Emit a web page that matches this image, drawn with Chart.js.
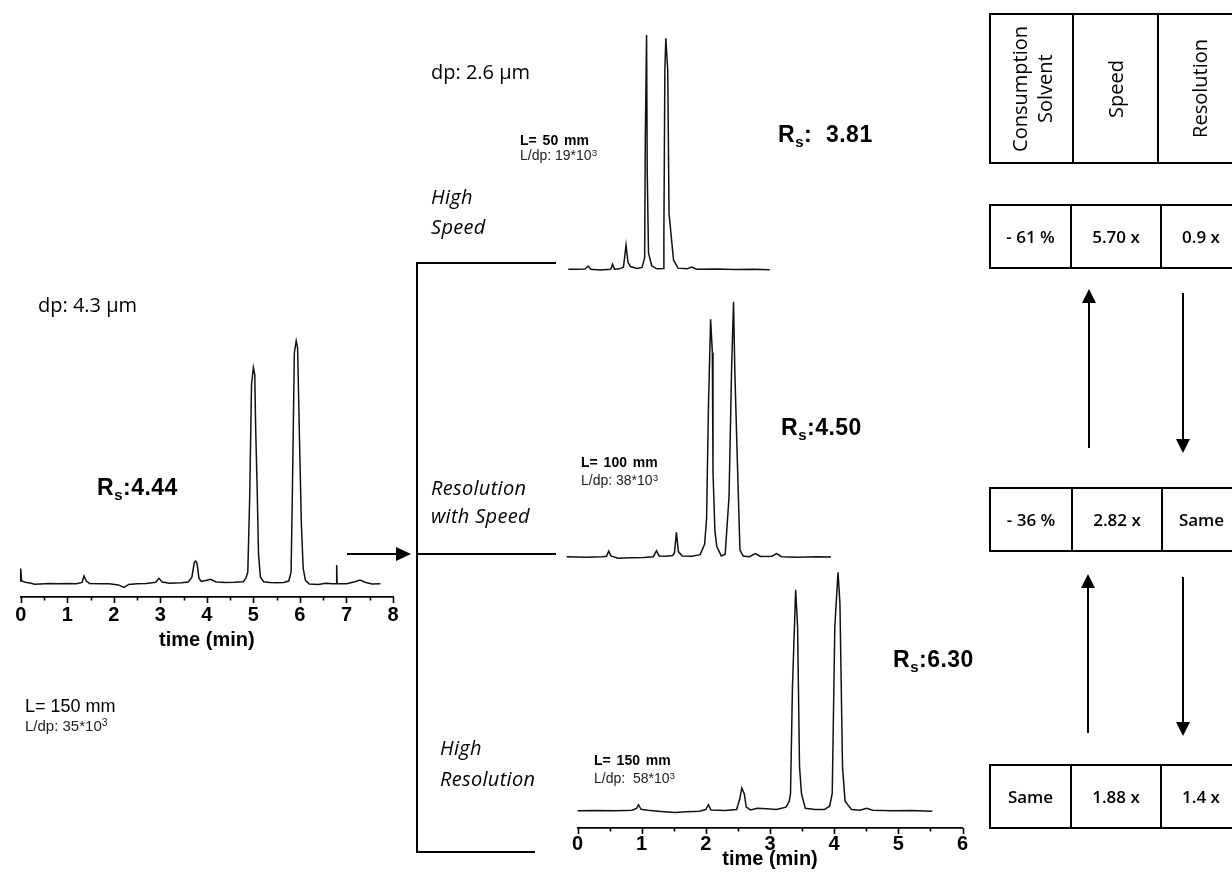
<!DOCTYPE html>
<html>
<head>
<meta charset="utf-8">
<script src="https://cdn.jsdelivr.net/npm/chart.js@4.4.1/dist/chart.umd.min.js"></script>
<style>
  html, body { margin: 0; padding: 0; background: #fff; }
  body { width: 1232px; height: 875px; position: relative; overflow: hidden; color: #000; font-family: "Open Sans", "Noto Sans", sans-serif; }
  canvas { position: absolute; }
  svg { position: absolute; left: 0; top: 0; }
  .t { position: absolute; white-space: nowrap; line-height: 1; transform: translateY(-50%); }
  .cal { font-family: "Open Sans", "Noto Sans", sans-serif; font-size: 20px; }
  .ital { font-family: "Open Sans", sans-serif; font-style: italic; font-size: 20px; letter-spacing: 0.3px; }
  .rs { font-family: "Liberation Sans", Arial, sans-serif; font-weight: bold; font-size: 23px; letter-spacing: 0.5px; }
  .rs sub { font-size: 15px; vertical-align: -5px; line-height: 0; }
  .lbig { font-family: "Liberation Sans", Arial, sans-serif; font-size: 18px; }
  .lsmall { font-family: "Liberation Sans", Arial, sans-serif; font-size: 15px; color: #222; }
  .nb { font-family: "Liberation Sans Narrow", "Liberation Sans", Arial, sans-serif; font-weight: bold; font-size: 14px; word-spacing: 2px; }
  .ns { font-family: "Liberation Sans Narrow", "Liberation Sans", Arial, sans-serif; font-size: 14px; color: #222; }
  sup { font-size: 0.7em; vertical-align: 0.45em; line-height: 0; }
  .box { position: absolute; border: 2px solid #000; box-sizing: border-box; }
  .div { position: absolute; top: 0; bottom: 0; width: 0; border-left: 2px solid #000; }
  .cell { position: absolute; top: 0; bottom: 0; display: flex; align-items: center; justify-content: center; font-family: "Open Sans", sans-serif; font-weight: 600; font-size: 17px; }
  .vcell { position: absolute; top: 0; bottom: 0; display: flex; align-items: center; justify-content: center; }
  .vtext { writing-mode: vertical-rl; transform: rotate(180deg); font-family: "Open Sans", sans-serif; font-size: 20px; line-height: 1.25; text-align: center; }
</style>
</head>
<body>

<canvas id="cLeft" width="410" height="370" style="left:0px;top:290px"></canvas>
<canvas id="cTop" width="230" height="260" style="left:560px;top:20px"></canvas>
<canvas id="cMid" width="290" height="280" style="left:560px;top:290px"></canvas>
<canvas id="cBot" width="460" height="315" style="left:540px;top:560px"></canvas>

<svg width="1232" height="875" viewBox="0 0 1232 875">
  <g stroke="#000" stroke-width="2" fill="none">
    <polyline points="556,263 417,263 417,852 535,852"/>
    <line x1="417" y1="554" x2="556" y2="554"/>
    <line x1="347" y1="554" x2="398" y2="554"/>
    <line x1="1089" y1="448" x2="1089" y2="300"/>
    <line x1="1183" y1="293" x2="1183" y2="442"/>
    <line x1="1088" y1="733" x2="1088" y2="585"/>
    <line x1="1183" y1="577" x2="1183" y2="725"/>
  </g>
  <g fill="#000">
    <polygon points="411,554 396,547 396,561"/>
    <polygon points="1089,289 1082,303 1096,303"/>
    <polygon points="1183,453 1176,439 1190,439"/>
    <polygon points="1088,574 1081,588 1095,588"/>
    <polygon points="1183,736 1176,722 1190,722"/>
  </g>
</svg>

<!-- left chromatogram labels -->
<div class="t cal" style="left:38px;top:305px">dp: 4.3 µm</div>
<div class="t rs" style="left:97px;top:487px">R<sub>s</sub>:4.44</div>
<div class="t lbig" style="left:25px;top:706px">L= 150 mm</div>
<div class="t lsmall" style="left:25px;top:725px">L/dp: 35*10<sup>3</sup></div>

<!-- high speed -->
<div class="t cal" style="left:431px;top:72px">dp: 2.6 µm</div>
<div class="t nb" style="left:520px;top:140px">L= 50 mm</div>
<div class="t ns" style="left:520px;top:155px">L/dp: 19*10<sup>3</sup></div>
<div class="t rs" style="left:778px;top:134px">R<sub>s</sub>:&nbsp; 3.81</div>
<div class="t ital" style="left:431px;top:197px">High</div>
<div class="t ital" style="left:431px;top:227px">Speed</div>

<!-- resolution with speed -->
<div class="t rs" style="left:781px;top:427px">R<sub>s</sub>:4.50</div>
<div class="t nb" style="left:581px;top:462px">L= 100 mm</div>
<div class="t ns" style="left:581px;top:480px">L/dp: 38*10<sup>3</sup></div>
<div class="t ital" style="left:431px;top:488px">Resolution</div>
<div class="t ital" style="left:431px;top:516px">with Speed</div>

<!-- high resolution -->
<div class="t rs" style="left:893px;top:659px">R<sub>s</sub>:6.30</div>
<div class="t nb" style="left:594px;top:760px">L= 150 mm</div>
<div class="t ns" style="left:594px;top:778px">L/dp:&nbsp; 58*10<sup>3</sup></div>
<div class="t ital" style="left:440px;top:748px">High</div>
<div class="t ital" style="left:440px;top:779px">Resolution</div>

<div id="tables"></div>

<script>
// ---- chromatogram traces: retention time (min) and detector signal (relative units) ----
const leftTime = [0.00, 0.00, 0.02, 0.10, 0.20, 0.30, 0.42, 0.60, 0.80, 1.00, 1.20, 1.32, 1.36, 1.41, 1.48, 1.70, 1.90, 2.10, 2.22, 2.32, 2.50, 2.70, 2.90, 2.97, 3.04, 3.20, 3.45, 3.60, 3.68, 3.73, 3.76, 3.79, 3.83, 3.88, 3.95, 4.08, 4.20, 4.40, 4.60, 4.78, 4.84, 4.88, 4.92, 4.96, 5.00, 5.03, 5.05, 5.08, 5.11, 5.15, 5.22, 5.35, 5.50, 5.65, 5.76, 5.81, 5.84, 5.88, 5.92, 5.95, 5.99, 6.03, 6.07, 6.12, 6.20, 6.40, 6.55, 6.70, 6.79, 6.79, 6.80, 7.00, 7.20, 7.29, 7.40, 7.55, 7.73];
const leftSignal = [0.5, 6.0, 0.8, 0.3, 0.0, -0.5, -0.4, -0.2, -0.3, -0.2, -0.3, 0.2, 2.9, 0.8, -0.2, -0.3, -0.3, -0.8, -1.8, -0.6, -0.3, -0.2, 0.3, 1.9, 0.4, -0.1, 0.1, 0.4, 2.5, 8.5, 9.1, 8.0, 2.0, 0.6, 0.9, 1.5, 0.4, 0.2, 0.3, 0.5, 2.0, 4.5, 35, 82, 89, 86, 63, 40, 12, 2.5, 0.5, 0.2, 0.1, 0.2, 0.8, 4.5, 40, 95, 100, 97, 60, 25, 6, 1.0, -0.4, -0.6, -0.1, -0.3, -0.3, 7.4, -0.3, -0.3, 0.6, 1.2, 0.3, -0.4, -0.3];

const speedTime = [0.00, 0.10, 0.26, 0.31, 0.35, 0.49, 0.66, 0.69, 0.72, 0.80, 0.86, 0.90, 0.93, 0.97, 1.07, 1.15, 1.19, 1.20, 1.22, 1.23, 1.25, 1.30, 1.38, 1.48, 1.49, 1.505, 1.52, 1.55, 1.57, 1.64, 1.71, 1.85, 1.92, 2.00, 2.30, 2.60, 2.90, 3.14];
const speedSignal = [0.0, 0.0, 0.1, 1.4, 0.0, -0.3, 0.0, 2.2, 0.0, 0.2, 1.0, 10.3, 3.0, 1.2, 0.4, 0.8, 5, 55, 100, 42, 7, 1.5, 0.2, 0.3, 15.4, 85, 98.6, 85, 23.9, 4.0, 0.5, 0.2, 1.0, 0.0, 0.1, -0.1, 0.0, -0.2];

const balancedTime = [0.00, 0.30, 0.55, 0.62, 0.655, 0.69, 0.80, 1.00, 1.20, 1.35, 1.40, 1.44, 1.55, 1.65, 1.68, 1.71, 1.74, 1.80, 1.95, 2.08, 2.15, 2.18, 2.21, 2.243, 2.27, 2.28, 2.31, 2.34, 2.41, 2.47, 2.53, 2.57, 2.60, 2.62, 2.66, 2.70, 2.75, 2.85, 2.94, 3.02, 3.20, 3.27, 3.35, 3.60, 3.90, 4.12];
const balancedSignal = [0.0, -0.2, 0.0, 0.2, 2.2, 0.3, -0.6, -0.4, -0.3, 0.0, 2.4, 0.3, 0.2, 0.5, 1.5, 9.6, 2.0, 0.3, 0.2, 0.8, 5, 15, 60, 93.2, 80, 33, 10, 3.9, 0.3, 1.0, 23.6, 74, 100, 73, 37, 2.6, 0.3, 0.0, 1.2, 0.1, 0.2, 1.2, 0.0, -0.2, 0.0, -0.1];

const resolutionTime = [0.00, 0.30, 0.60, 0.85, 0.92, 0.95, 0.99, 1.10, 1.30, 1.52, 1.70, 1.90, 2.00, 2.04, 2.08, 2.30, 2.48, 2.53, 2.56, 2.60, 2.63, 2.70, 2.80, 2.95, 3.10, 3.25, 3.30, 3.32, 3.35, 3.40, 3.43, 3.46, 3.49, 3.55, 3.70, 3.85, 3.93, 3.97, 4.01, 4.06, 4.09, 4.13, 4.17, 4.27, 4.40, 4.51, 4.60, 4.90, 5.20, 5.53];
const resolutionSignal = [0.0, 0.1, 0.0, 0.2, 1.0, 2.5, 0.6, 0.2, -0.3, -0.8, -0.4, -0.2, 0.5, 2.5, 0.3, 0.1, 0.5, 5, 9.5, 7, 1.5, 0.3, 1.0, 0.8, 0.5, 1.5, 4, 7.3, 52, 92.7, 77, 18.5, 7.3, 1.0, 0.5, 0.5, 2, 7.3, 77, 100, 87, 18.5, 4, 0.5, 0.2, 1.0, 0.2, 0.0, 0.1, -0.2];

// time-axis tick marks (labels drawn on whole minutes only)
const leftAxisRange = [0, 8];
const rightAxisRange = [0, 6];
const tickStep = 0.5;

// ---- comparison tables ----
const tableHeaders = [["Consumption", "Solvent"], ["Speed"], ["Resolution"]];
const rowHighSpeed = ["- 61 %", "5.70 x", "0.9 x"];
const rowBalanced = ["- 36 %", "2.82 x", "Same"];
const rowHighResolution = ["Same", "1.88 x", "1.4 x"];

function points(ts, ys) { return ts.map((t, i) => ({ x: t, y: ys[i] })); }

// short tick marks under the time axis: longer on whole minutes
const tickMarks = {
  id: 'tickMarks',
  afterDraw(chart) {
    const s = chart.scales.x;
    if (!s || !s.options.display) return;
    const ctx = chart.ctx;
    ctx.save();
    ctx.strokeStyle = '#000';
    ctx.lineWidth = 1.6;
    for (const tk of s.ticks) {
      const x = Math.round(s.getPixelForValue(tk.value)) + 0.5;
      const major = Math.abs(tk.value - Math.round(tk.value)) < 1e-6;
      ctx.beginPath();
      ctx.moveTo(x, s.top);
      ctx.lineTo(x, s.top + (major ? 6 : 3.5));
      ctx.stroke();
    }
    ctx.restore();
  }
};

const axisFont = { family: '"Liberation Sans", Arial, sans-serif', weight: 'bold', size: 20, lineHeight: 1 };

function trace(id, data, opts) {
  const xAxis = opts.axis ? {
    type: 'linear', min: opts.axis[0], max: opts.axis[1],
    grid: { display: true, drawOnChartArea: false, drawTicks: false },
    border: { display: true, color: '#000', width: 1.8 },
    ticks: {
      stepSize: tickStep, autoSkip: false, maxRotation: 0, color: '#000', font: axisFont, padding: opts.tickPad,
      callback: v => (Math.abs(v - Math.round(v)) < 1e-6 ? String(Math.round(v)) : '')
    },
    title: { display: true, text: 'time (min)', color: '#000', font: { family: axisFont.family, weight: 'bold', size: 20, lineHeight: 1 }, padding: { top: 0, bottom: opts.titlePad } },
    afterFit: s => { s.height = opts.axisHeight; }
  } : { type: 'linear', display: false, min: opts.xRange[0], max: opts.xRange[1] };

  return new Chart(document.getElementById(id), {
    type: 'scatter',
    data: { datasets: [{ data, showLine: true, borderColor: '#111', borderWidth: 1.5, pointRadius: 0, tension: 0, clip: false }] },
    options: {
      responsive: false, animation: false, devicePixelRatio: 1,
      layout: { padding: opts.pad },
      plugins: { legend: { display: false }, tooltip: { enabled: false } },
      scales: {
        x: xAxis,
        y: { type: 'linear', display: false, min: opts.yRange[0], max: opts.yRange[1] }
      }
    },
    plugins: [tickMarks]
  });
}

trace('cLeft', points(leftTime, leftSignal), {
  axis: leftAxisRange, tickPad: 8, titlePad: 10, axisHeight: 63,
  pad: { left: 20.7, right: 17, top: 10, bottom: 0 }, yRange: [-5.8, 116.9]
});
trace('cTop', points(speedTime, speedSignal), {
  xRange: [0, 3.2], pad: { left: 8.3, right: 16.4, top: 8, bottom: 5 }, yRange: [-2.43, 103]
});
trace('cMid', points(balancedTime, balancedSignal), {
  xRange: [0, 4.2], pad: { left: 6.7, right: 13.8, top: 5, bottom: 5 }, yRange: [-3.26, 102.7]
});
trace('cBot', points(resolutionTime, resolutionSignal), {
  axis: rightAxisRange, tickPad: 6, titlePad: 6, axisHeight: 47,
  pad: { left: 37.5, right: 37.5, top: 5, bottom: 0 }, yRange: [-7.26, 103.1]
});

// ---- tables ----
const host = document.getElementById('tables');
function makeBox(top, height, dividers, cells, vertical) {
  const b = document.createElement('div');
  b.className = 'box';
  b.style.left = '989px'; b.style.top = top + 'px';
  b.style.width = '262px'; b.style.height = height + 'px';
  const edges = [0, ...dividers.map(d => d - 989), 262];
  dividers.forEach(d => {
    const v = document.createElement('div');
    v.className = 'div'; v.style.left = (d - 989 - 2) + 'px';
    b.appendChild(v);
  });
  cells.forEach((c, i) => {
    const cell = document.createElement('div');
    cell.className = vertical ? 'vcell' : 'cell';
    const l = edges[i], r = i === cells.length - 1 ? 1240 - 989 : edges[i + 1];
    cell.style.left = l + 'px'; cell.style.width = (r - l - 2) + 'px';
    if (vertical) {
      const s = document.createElement('div');
      s.className = 'vtext';
      s.innerHTML = c.join('<br>');
      cell.appendChild(s);
    } else {
      cell.textContent = c;
    }
    b.appendChild(cell);
  });
  host.appendChild(b);
}
makeBox(13, 151, [1072, 1157], tableHeaders, true);
makeBox(204, 65, [1070, 1160], rowHighSpeed, false);
makeBox(487, 65, [1071, 1161], rowBalanced, false);
makeBox(764, 65, [1070, 1160], rowHighResolution, false);
</script>
</body>
</html>
